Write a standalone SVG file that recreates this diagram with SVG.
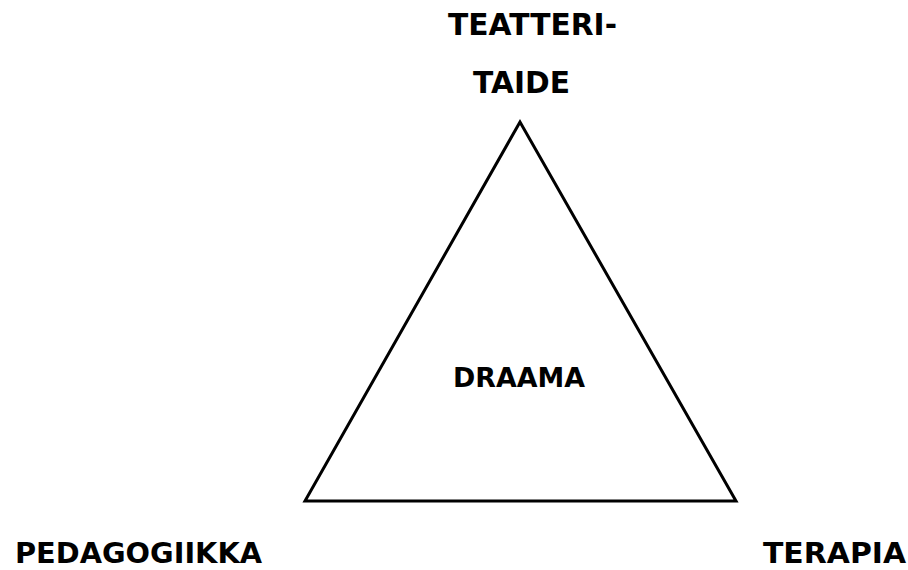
<svg xmlns="http://www.w3.org/2000/svg" width="908" height="570" viewBox="0 0 908 570">
<style>
.lbl{font-family:"DejaVu Sans","Liberation Sans",sans-serif;font-weight:bold;fill:#000;}
.edge{fill:none;stroke:#000;stroke-width:3;stroke-linejoin:miter;}
</style>
<rect width="908" height="570" fill="#fff"/>
<g id="connectors">
<polygon class="edge" points="520,122 305,501 736,501"/>
</g>
<g id="node-teatteritaide">
<text class="lbl" x="448" y="35" font-size="31" textLength="169" lengthAdjust="spacingAndGlyphs">TEATTERI-</text>
<text class="lbl" x="473" y="93" font-size="31" textLength="97" lengthAdjust="spacingAndGlyphs">TAIDE</text>
</g>
<g id="node-draama">
<text class="lbl" x="453" y="387" font-size="27" textLength="132" lengthAdjust="spacingAndGlyphs">DRAAMA</text>
</g>
<g id="node-pedagogiikka">
<text class="lbl" x="15" y="563" font-size="28" textLength="247" lengthAdjust="spacingAndGlyphs">PEDAGOGIIKKA</text>
</g>
<g id="node-terapia">
<text class="lbl" x="763" y="563" font-size="28" textLength="143" lengthAdjust="spacingAndGlyphs">TERAPIA</text>
</g>
</svg>
